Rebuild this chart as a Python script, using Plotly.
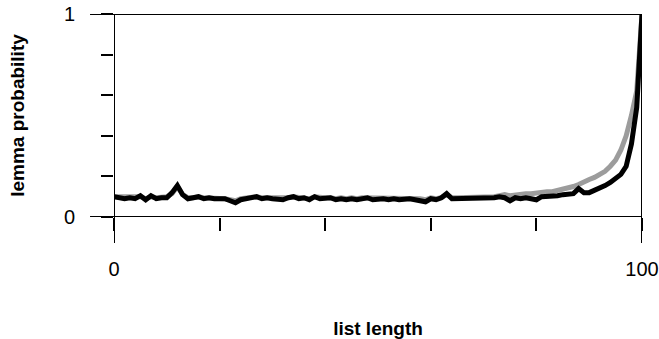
import plotly.graph_objects as go

list_length = list(range(0, 101))

black_series = [
    0.100, 0.095, 0.090, 0.095, 0.090, 0.105, 0.085, 0.105, 0.090, 0.095,
    0.095, 0.120, 0.155, 0.110, 0.090, 0.095, 0.100, 0.090, 0.095, 0.090,
    0.090, 0.090, 0.080, 0.070, 0.085, 0.090, 0.095, 0.100, 0.090, 0.095,
    0.090, 0.090, 0.085, 0.095, 0.100, 0.090, 0.095, 0.085, 0.100, 0.090,
    0.090, 0.095, 0.085, 0.090, 0.085, 0.090, 0.085, 0.090, 0.095, 0.085,
    0.090, 0.090, 0.085, 0.090, 0.085, 0.090, 0.090, 0.085, 0.080, 0.075,
    0.090, 0.085, 0.095, 0.115, 0.090, 0.090, 0.095, 0.095, 0.090, 0.090,
    0.090, 0.090, 0.095, 0.100, 0.095, 0.080, 0.095, 0.090, 0.095, 0.090,
    0.085, 0.100, 0.100, 0.105, 0.105, 0.110, 0.110, 0.115, 0.140, 0.120,
    0.120, 0.130, 0.140, 0.155, 0.170, 0.190, 0.210, 0.250, 0.360, 0.540,
    1.000,
]

gray_series = [
    0.100, 0.100, 0.095, 0.095, 0.095, 0.100, 0.090, 0.100, 0.095, 0.095,
    0.100, 0.115, 0.150, 0.110, 0.095, 0.095, 0.100, 0.095, 0.095, 0.095,
    0.095, 0.090, 0.085, 0.080, 0.090, 0.095, 0.095, 0.100, 0.095, 0.095,
    0.095, 0.090, 0.090, 0.095, 0.100, 0.095, 0.095, 0.090, 0.100, 0.095,
    0.095, 0.095, 0.090, 0.095, 0.090, 0.095, 0.090, 0.095, 0.095, 0.090,
    0.095, 0.090, 0.090, 0.095, 0.090, 0.095, 0.090, 0.090, 0.090, 0.085,
    0.095, 0.090, 0.095, 0.110, 0.095, 0.095, 0.095, 0.100, 0.095, 0.095,
    0.100, 0.100, 0.100, 0.105, 0.110, 0.105, 0.110, 0.110, 0.115, 0.115,
    0.120, 0.120, 0.125, 0.125, 0.130, 0.135, 0.145, 0.150, 0.160, 0.175,
    0.185, 0.195, 0.210, 0.225, 0.250, 0.280, 0.330, 0.400, 0.500, 0.620,
    1.000,
]

x_tick_vals = [0, 20, 40, 60, 80, 100]
x_tick_text = ["0", "", "", "", "", "100"]
y_tick_vals = [0, 0.2, 0.4, 0.6, 0.8, 1]
y_tick_text = ["0", "", "", "", "", "1"]

fig = go.Figure()
fig.add_trace(go.Scatter(x=list_length, y=gray_series, mode="lines",
                         line=dict(color="#9c9c9c", width=5), showlegend=False))
fig.add_trace(go.Scatter(x=list_length, y=black_series, mode="lines",
                         line=dict(color="black", width=5), showlegend=False))

font_family = "Liberation Sans, Arial, Helvetica, sans-serif"

# frame lines (extended beyond the plot as in the original)
frame = dict(color="black", width=2)
fig.add_shape(type="line", xref="paper", yref="y", x0=-0.0454, x1=1, y0=0, y1=0, line=frame)
fig.add_shape(type="line", xref="paper", yref="y", x0=-0.0454, x1=1, y0=1, y1=1, line=frame)
fig.add_shape(type="line", xref="x", yref="paper", x0=0, x1=0, y0=-0.128, y1=1, line=frame)
fig.add_shape(type="line", xref="x", yref="paper", x0=100, x1=100, y0=-0.128, y1=1, line=frame)

fig.update_layout(
    width=659, height=339,
    margin=dict(l=114, r=16.5, t=13.5, b=122, autoexpand=False),
    paper_bgcolor="white", plot_bgcolor="white",
    font=dict(family=font_family, color="black"),
    xaxis=dict(range=[0, 100], tickvals=x_tick_vals, ticktext=x_tick_text,
               ticks="outside", ticklen=13, tickwidth=2, tickcolor="black",
               showgrid=False, zeroline=False, showline=False, automargin=False,
               tickfont=dict(size=20), ticklabelstandoff=21,
               title=dict(text="list length", font=dict(size=19, weight="bold"), standoff=56)),
    yaxis=dict(range=[0, 1], tickvals=y_tick_vals, ticktext=y_tick_text,
               ticks="outside", ticklen=12, tickwidth=2, tickcolor="black",
               showgrid=False, zeroline=False, showline=False, automargin=False,
               tickfont=dict(size=20), ticklabelstandoff=22,
               title=dict(text="lemma probability", font=dict(size=19, weight="bold"), standoff=34)),
)

fig.write_html("out.html")
